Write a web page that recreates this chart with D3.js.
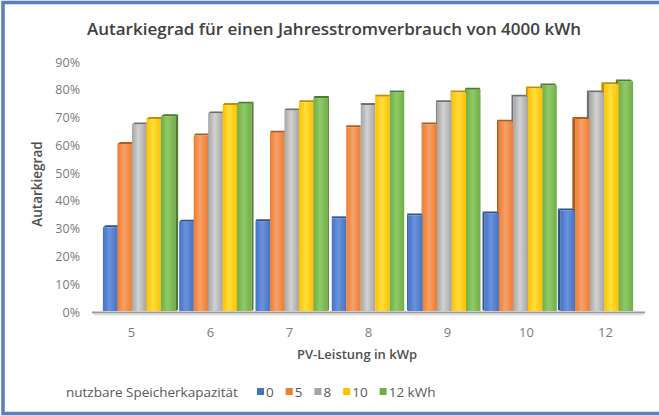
<!DOCTYPE html>
<html>
<head>
<meta charset="utf-8">
<script src="https://cdn.jsdelivr.net/npm/d3@7"></script>
<style>
  html, body { margin: 0; padding: 0; background: #fff; }
  svg { display: block; font-family: 'Open Sans', Lato, sans-serif; }
</style>
</head>
<body>
<div class="container"></div>
<script>
// Data
const categories = ['5', '6', '7', '8', '9', '10', '12'];
const seriesNames = ['0', '5', '8', '10', '12 kWh'];
const storage0 = [0.305, 0.325, 0.327, 0.337, 0.347, 0.355, 0.365];
const storage5 = [0.605, 0.635, 0.645, 0.665, 0.675, 0.685, 0.695];
const storage8 = [0.675, 0.715, 0.725, 0.745, 0.755, 0.775, 0.79];
const storage10 = [0.695, 0.745, 0.755, 0.775, 0.79, 0.805, 0.82];
const storage12 = [0.705, 0.75, 0.77, 0.79, 0.8, 0.815, 0.83];
const yTicks = [0, 0.1, 0.2, 0.3, 0.4, 0.5, 0.6, 0.7, 0.8, 0.9];

const seriesValues = [storage0, storage5, storage8, storage10, storage12];

const drawChart = () => {
  const width = 659;
  const height = 416;

  const colors = [
    { base: '#4472c4', light: '#6a93dc', dark: '#2f528f' },
    { base: '#ed7d31', light: '#f7a06a', dark: '#ae5a21' },
    { base: '#a5a5a5', light: '#d2d2d2', dark: '#6f6f6f' },
    { base: '#ffc000', light: '#ffdf3a', dark: '#bf8f00' },
    { base: '#70ad47', light: '#8fca66', dark: '#4e7a31' },
  ];

  const svg = d3
    .select('.container')
    .append('svg')
    .attr('width', width)
    .attr('height', height);

  // gradients for the glossy bars
  const defs = svg.append('defs');
  colors.forEach((c, i) => {
    const g = defs
      .append('linearGradient')
      .attr('id', 'grad' + i)
      .attr('x1', '0%')
      .attr('x2', '100%')
      .attr('y1', '0%')
      .attr('y2', '0%');
    g.append('stop').attr('offset', '0%').attr('stop-color', c.base);
    g.append('stop').attr('offset', '45%').attr('stop-color', c.light);
    g.append('stop').attr('offset', '100%').attr('stop-color', c.base);
  });

  // frame
  svg
    .append('rect')
    .attr('x', 3)
    .attr('y', 2.5)
    .attr('width', width + 20)
    .attr('height', 411)
    .attr('fill', 'none')
    .attr('stroke', '#5a7dc4')
    .attr('stroke-width', 3.5);

  // title
  svg
    .append('text')
    .attr('x', 334)
    .attr('y', 35)
    .attr('text-anchor', 'middle')
    .style('font-size', '17px')
    .style('font-weight', '600')
    .attr('fill', '#404040')
    .text('Autarkiegrad für einen Jahresstromverbrauch von 4000 kWh');

  // scales
  const y = d3.scaleLinear().domain([0, 0.9]).range([312, 62]);
  const xAxisScale = d3.scaleBand().domain(categories).range([92, 645]);
  const xBars = d3
    .scaleBand()
    .domain(categories)
    .range([101, 635])
    .paddingInner(0.05)
    .paddingOuter(0.025);
  const xInner = d3
    .scaleBand()
    .domain(d3.range(seriesNames.length))
    .range([0, xBars.bandwidth()]);

  // y axis labels
  svg
    .append('g')
    .selectAll('text')
    .data(yTicks)
    .enter()
    .append('text')
    .attr('x', 80)
    .attr('y', (d) => y(d) + 4.5)
    .attr('text-anchor', 'end')
    .style('font-size', '12.5px')
    .attr('fill', '#7a7a7a')
    .text(d3.format('.0%'));

  // floor
  svg
    .append('line')
    .attr('x1', xAxisScale.range()[0])
    .attr('x2', xAxisScale.range()[1])
    .attr('y1', y(0) + 0.5)
    .attr('y2', y(0) + 0.5)
    .attr('stroke', '#9a9a9a')
    .attr('stroke-width', 2);
  svg
    .append('line')
    .attr('x1', xAxisScale.range()[0] + 2)
    .attr('x2', xAxisScale.range()[1] - 2)
    .attr('y1', y(0) + 2.5)
    .attr('y2', y(0) + 2.5)
    .attr('stroke', '#d9d9d9')
    .attr('stroke-width', 1.5);

  // bars with a bit of 3D
  const vanishX = 368;
  const bars = svg.append('g').attr('class', 'bars');
  categories.forEach((cat, ci) => {
    const groupCenter = xBars(cat) + xBars.bandwidth() / 2;
    const side = -(groupCenter - vanishX) * 0.012;
    let order = d3.range(seriesNames.length);
    if (side < 0) order = order.reverse();
    order.forEach((si) => {
      const v = seriesValues[si][ci];
      const x0 = xBars(cat) + xInner(si);
      const w = xInner.bandwidth();
      const top = y(v);
      const bottom = y(0) - 1;
      const c = colors[si];
      const g = bars.append('g');
      // side face
      const sx = side > 0 ? x0 + w : x0;
      g.append('polygon')
        .attr(
          'points',
          [
            [sx, top],
            [sx + side, top - 2],
            [sx + side, bottom - 1],
            [sx, bottom],
          ].join(' ')
        )
        .attr('fill', c.dark);
      // top face
      g.append('polygon')
        .attr(
          'points',
          [
            [x0, top],
            [x0 + w, top],
            [x0 + w + side, top - 2],
            [x0 + side, top - 2],
          ].join(' ')
        )
        .attr('fill', c.dark);
      // front face
      g.append('rect')
        .attr('x', x0)
        .attr('y', top)
        .attr('width', w)
        .attr('height', bottom - top)
        .attr('fill', `url(#grad${si})`);
    });
  });

  // x axis labels
  svg
    .append('g')
    .selectAll('text')
    .data(categories)
    .enter()
    .append('text')
    .attr('x', (d) => xAxisScale(d) + xAxisScale.bandwidth() / 2)
    .attr('y', 337)
    .attr('text-anchor', 'middle')
    .style('font-size', '13px')
    .attr('fill', '#7a7a7a')
    .text((d) => d);

  // axis titles
  svg
    .append('text')
    .attr('x', 357)
    .attr('y', 359)
    .attr('text-anchor', 'middle')
    .style('font-size', '13px')
    .style('font-weight', '600')
    .attr('fill', '#505050')
    .text('PV-Leistung in kWp');

  svg
    .append('text')
    .attr('transform', 'translate(42,184) rotate(-90)')
    .attr('text-anchor', 'middle')
    .style('font-size', '13.5px')
    .style('font-weight', '600')
    .attr('fill', '#505050')
    .text('Autarkiegrad');

  // legend
  const legend = svg.append('g').attr('id', 'legend');
  legend
    .append('text')
    .attr('x', 66)
    .attr('y', 397)
    .style('font-size', '13.5px')
    .attr('fill', '#595959')
    .text('nutzbare Speicherkapazität');

  let lx = 257;
  seriesNames.forEach((name, i) => {
    legend
      .append('rect')
      .attr('x', lx)
      .attr('y', 388)
      .attr('width', 7)
      .attr('height', 7)
      .attr('fill', colors[i].base);
    const t = legend
      .append('text')
      .attr('x', lx + 9)
      .attr('y', 397)
      .style('font-size', '13.5px')
      .attr('fill', '#595959')
      .text(name);
    lx += 9 + t.node().getComputedTextLength() + 12;
  });
};

drawChart();
</script>
</body>
</html>
